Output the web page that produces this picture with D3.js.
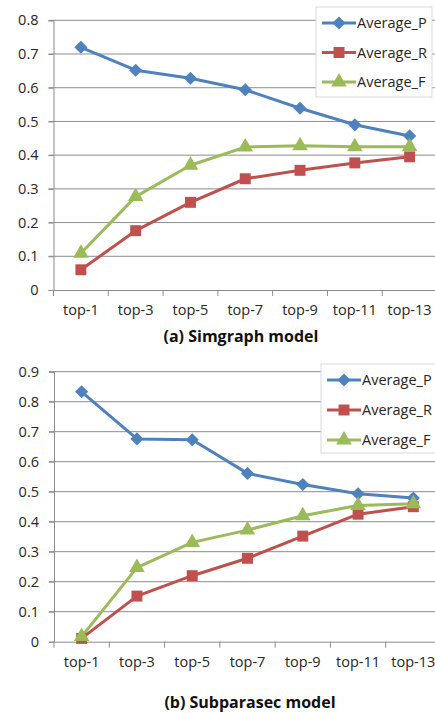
<!DOCTYPE html>
<html><head><meta charset="utf-8">
<script src="https://cdn.jsdelivr.net/npm/d3@7"></script>
<style>
html,body{margin:0;padding:0;background:#fff;}
svg{display:block;font-family:"Open Sans",sans-serif;}
</style></head>
<body>
<svg id="chart" width="435" height="713"></svg>
<script>
const categories = ["top-1","top-3","top-5","top-7","top-9","top-11","top-13"];
const seriesNames = ["Average_P","Average_R","Average_F"];
const colors = ["#4F81BD","#C0504D","#9BBB59"];
const markers = ["diamond","square","triangle"];

// (a) Simgraph model
const simP = [0.72,0.652,0.628,0.594,0.539,0.490,0.457];
const simR = [0.060,0.176,0.260,0.330,0.355,0.377,0.395];
const simF = [0.109,0.277,0.370,0.424,0.428,0.425,0.425];
const simTicks = [0,0.1,0.2,0.3,0.4,0.5,0.6,0.7,0.8];

// (b) Subparasec model
const subP = [0.833,0.676,0.673,0.561,0.524,0.493,0.479];
const subR = [0.011,0.152,0.220,0.278,0.352,0.425,0.450];
const subF = [0.017,0.247,0.331,0.372,0.420,0.454,0.460];
const subTicks = [0,0.1,0.2,0.3,0.4,0.5,0.6,0.7,0.8,0.9];

const svg = d3.select("#chart");

function drawChart(cfg){
  const g = svg.append("g");
  const x = d3.scaleBand().domain(categories).range([cfg.left, cfg.right]).padding(0);
  const y = d3.scaleLinear().domain([0, d3.max(cfg.ticks)]).range([cfg.bottom, cfg.top]);

  // gridlines
  g.append("g").selectAll("line").data(cfg.ticks.filter(t=>t>0)).join("line")
    .attr("x1", cfg.left-5).attr("x2", cfg.right)
    .attr("y1", d=>y(d)).attr("y2", d=>y(d))
    .attr("stroke","#8c8c8c").attr("stroke-width",1);

  // y axis
  const ya = g.append("g").attr("transform",`translate(${cfg.left},0)`)
    .call(d3.axisLeft(y).tickValues(cfg.ticks).tickSize(5).tickPadding(10).tickFormat(d=>d===0?"0":d3.format(".1f")(d)));
  ya.select(".domain").attr("stroke","#8c8c8c");
  ya.selectAll(".tick line").attr("stroke","#8c8c8c");
  ya.selectAll("text").attr("font-size",14.5).attr("fill","#262626").attr("font-family","Open Sans");

  // x axis
  const xa = g.append("g").attr("transform",`translate(0,${cfg.bottom})`)
    .call(d3.axisBottom(x).tickSize(0).tickPadding(15));
  xa.select(".domain").attr("stroke","#8c8c8c");
  xa.selectAll("text").attr("font-size",14.5).attr("fill","#262626").attr("font-family","Open Sans");
  // tick marks between categories
  const bounds = categories.map(c=>x(c)).concat([cfg.right]);
  g.append("g").selectAll("line").data(bounds).join("line")
    .attr("x1",d=>d).attr("x2",d=>d).attr("y1",cfg.bottom).attr("y2",cfg.bottom+6)
    .attr("stroke","#8c8c8c");

  const cx = c => x(c) + x.bandwidth()/2;
  const sym = {
    diamond: d3.symbol().type(d3.symbolDiamond2).size(110),
    square: d3.symbol().type(d3.symbolSquare).size(120),
    triangle: d3.symbol().type(d3.symbolTriangle).size(105)
  };
  const line = d3.line().x((d,i)=>cx(categories[i])).y(d=>y(d));

  cfg.series.forEach((vals, si)=>{
    g.append("path").datum(vals).attr("d", line)
      .attr("fill","none").attr("stroke",colors[si]).attr("stroke-width",3).attr("stroke-linejoin","round");
  });
  cfg.series.forEach((vals, si)=>{
    g.append("g").selectAll("path").data(vals).join("path")
      .attr("d", sym[markers[si]])
      .attr("transform",(d,i)=>`translate(${cx(categories[i])},${y(d)})`)
      .attr("fill",colors[si]);
  });

  // legend
  const lg = g.append("g");
  lg.append("rect").attr("x",cfg.legX).attr("y",cfg.legY).attr("width",cfg.legW).attr("height",cfg.legH)
    .attr("fill","#fff").attr("stroke","#d9d9d9");
  seriesNames.forEach((n,i)=>{
    const ly = cfg.legY + 16 + i*cfg.legStep;
    lg.append("line").attr("x1",cfg.legX+6).attr("x2",cfg.legX+40).attr("y1",ly).attr("y2",ly)
      .attr("stroke",colors[i]).attr("stroke-width",3);
    lg.append("path").attr("d", sym[markers[i]]).attr("transform",`translate(${cfg.legX+23},${ly})`).attr("fill",colors[i]);
    lg.append("text").attr("x",cfg.legX+41).attr("y",ly).attr("dy","0.35em")
      .attr("font-size",14.5).attr("fill","#262626").text(n);
  });

  // title
  g.append("text").attr("x",cfg.titleX).attr("y",cfg.titleY).attr("text-anchor","middle").attr("dy","0.35em")
    .attr("font-size",16).attr("font-weight","bold").attr("fill","#111").text(cfg.title);
}

drawChart({left:53.5, right:437, top:20.3, bottom:290, ticks:simTicks,
  series:[simP,simR,simF], legX:316, legY:7, legW:116, legH:90, legStep:29.5,
  title:"(a) Simgraph model", titleX:241, titleY:336});

drawChart({left:54, right:441, top:371.7, bottom:641.7, ticks:subTicks,
  series:[subP,subR,subF], legX:321, legY:364, legW:120, legH:89, legStep:30,
  title:"(b) Subparasec model", titleX:250, titleY:702});
</script>
</body></html>
